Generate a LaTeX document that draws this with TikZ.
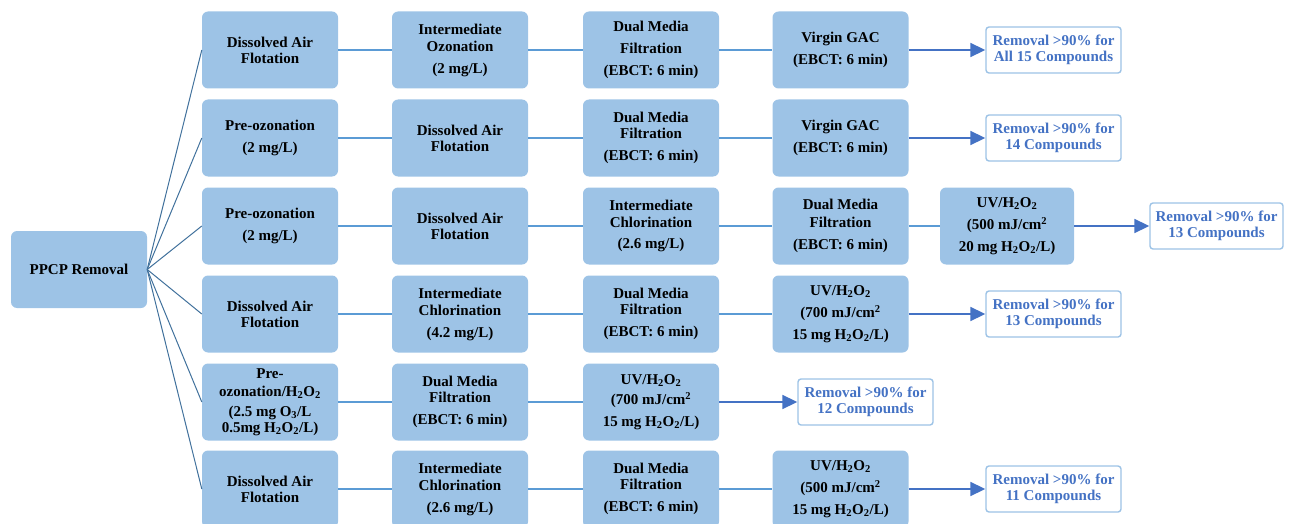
\documentclass[tikz,border=0pt]{standalone}
\usepackage{fontspec}
\setmainfont{Liberation Serif}
\usetikzlibrary{arrows.meta}
\definecolor{boxfill}{HTML}{9DC3E6}
\definecolor{linkc}{HTML}{5B9BD5}
\definecolor{arrc}{HTML}{4472C4}
\definecolor{fanc}{HTML}{41719C}
\definecolor{resborder}{HTML}{9DC3E6}
\newcommand{\tsub}[1]{\textsubscript{#1}}
\newcommand{\tsup}[1]{\textsuperscript{#1}}
\newcommand{\hho}{H\tsub{2}O\tsub{2}}
\begin{document}
\begin{tikzpicture}[x=1pt,y=-1pt,
  stepbox/.style={rectangle, rounded corners=6pt, fill=boxfill, minimum width=136pt, minimum height=77pt,
    align=center, font=\fontsize{15}{16}\selectfont\bfseries, inner sep=0pt, text=black},
  resbox/.style={rectangle, rounded corners=3pt, draw=resborder, line width=1.4pt, fill=white,
    minimum width=135pt, minimum height=46pt, align=center, font=\fontsize{15}{16}\selectfont\bfseries,
    text=arrc, inner sep=0pt},
  link/.style={draw=linkc, line width=1.4pt},
  arr/.style={draw=arrc, line width=1.8pt, -{Triangle[length=15pt,width=14pt]}},
  fan/.style={draw=fanc, line width=1pt}]
\useasboundingbox (0,0) rectangle (1290,524);
\clip (0,0) rectangle (1290,524);

% root
\node[stepbox] (ppcp) at (79,269.5) {PPCP Removal};

% row 1
\node[stepbox] (r1c1) at (270,50) {Dissolved Air\\Flotation};
\node[stepbox] (r1c2) at (460,50) {Intermediate\\[1pt]Ozonation\\[6pt](2 mg/L)};
\node[stepbox] (r1c3) at (651,50) {Dual Media\\[6pt]Filtration\\[6pt](EBCT: 6 min)};
\node[stepbox] (r1c4) at (840.5,50) {Virgin GAC\\[6pt](EBCT: 6 min)};
\node[resbox] (r1r) at (1053.5,50) {Removal >90\% for\\All 15 Compounds};

% row 2
\node[stepbox] (r2c1) at (270,138) {Pre-ozonation\\[6pt](2 mg/L)};
\node[stepbox] (r2c2) at (460,138) {Dissolved Air\\Flotation};
\node[stepbox] (r2c3) at (651,138) {Dual Media\\Filtration\\[6pt](EBCT: 6 min)};
\node[stepbox] (r2c4) at (840.5,138) {Virgin GAC\\[6pt](EBCT: 6 min)};
\node[resbox] (r2r) at (1053.5,138) {Removal >90\% for\\14 Compounds};

% row 3
\node[stepbox] (r3c1) at (270,226) {Pre-ozonation\\[6pt](2 mg/L)};
\node[stepbox] (r3c2) at (460,226) {Dissolved Air\\Flotation};
\node[stepbox] (r3c3) at (651,226) {Intermediate\\[1pt]Chlorination\\[5pt](2.6 mg/L)};
\node[stepbox] (r3c4) at (840.5,226) {Dual Media\\[2pt]Filtration\\[6pt](EBCT: 6 min)};
\node[stepbox, minimum width=134pt] (r3c5) at (1007,226) {UV/\hho\\[6pt](500 mJ/cm\tsup{2}\\[6pt]20 mg \hho/L)};
\node[resbox, minimum width=133pt] (r3r) at (1216.5,226) {Removal >90\% for\\13 Compounds};

% row 4
\node[stepbox] (r4c1) at (270,314) {Dissolved Air\\Flotation};
\node[stepbox] (r4c2) at (460,314) {Intermediate\\[1pt]Chlorination\\[6pt](4.2 mg/L)};
\node[stepbox] (r4c3) at (651,314) {Dual Media\\Filtration\\[6pt](EBCT: 6 min)};
\node[stepbox] (r4c4) at (840.5,314) {UV/\hho\\[6pt](700 mJ/cm\tsup{2}\\[6pt]15 mg \hho/L)};
\node[resbox] (r4r) at (1053.5,314) {Removal >90\% for\\13 Compounds};

% row 5
\node[stepbox] (r5c1) at (270,402) {Pre-\\[2pt]ozonation/\hho\\[4pt](2.5 mg O\tsub{3}/L\\0.5mg \hho/L)};
\node[stepbox] (r5c2) at (460,402) {Dual Media\\Filtration\\[6pt](EBCT: 6 min)};
\node[stepbox] (r5c3) at (651,402) {UV/\hho\\[4pt](700 mJ/cm\tsup{2}\\[6pt]15 mg \hho/L)};
\node[resbox] (r5r) at (865.5,402) {Removal >90\% for\\12 Compounds};

% row 6
\node[stepbox] (r6c1) at (270,489) {Dissolved Air\\Flotation};
\node[stepbox] (r6c2) at (460,489) {Intermediate\\[1pt]Chlorination\\[6pt](2.6 mg/L)};
\node[stepbox] (r6c3) at (651,489) {Dual Media\\Filtration\\[6pt](EBCT: 6 min)};
\node[stepbox] (r6c4) at (840.5,489) {UV/\hho\\[6pt](500 mJ/cm\tsup{2}\\[6pt]15 mg \hho/L)};
\node[resbox] (r6r) at (1053.5,489) {Removal >90\% for\\11 Compounds};

% fan
\foreach \r in {1,...,6} {\draw[fan] (ppcp.east) -- (r\r c1.west);}

% links
\draw[link] (r1c1) -- (r1c2); \draw[link] (r1c2) -- (r1c3); \draw[link] (r1c3) -- (r1c4);
\draw[link] (r2c1) -- (r2c2); \draw[link] (r2c2) -- (r2c3); \draw[link] (r2c3) -- (r2c4);
\draw[link] (r3c1) -- (r3c2); \draw[link] (r3c2) -- (r3c3); \draw[link] (r3c3) -- (r3c4); \draw[link] (r3c4) -- (r3c5);
\draw[link] (r4c1) -- (r4c2); \draw[link] (r4c2) -- (r4c3); \draw[link] (r4c3) -- (r4c4);
\draw[link] (r5c1) -- (r5c2); \draw[link] (r5c2) -- (r5c3);
\draw[link] (r6c1) -- (r6c2); \draw[link] (r6c2) -- (r6c3); \draw[link] (r6c3) -- (r6c4);

% arrows
\draw[arr] (r1c4) -- (r1r);
\draw[arr] (r2c4) -- (r2r);
\draw[arr] (r3c5) -- (r3r);
\draw[arr] (r4c4) -- (r4r);
\draw[arr] (r5c3) -- (r5r);
\draw[arr] (r6c4) -- (r6r);
\end{tikzpicture}
\end{document}
